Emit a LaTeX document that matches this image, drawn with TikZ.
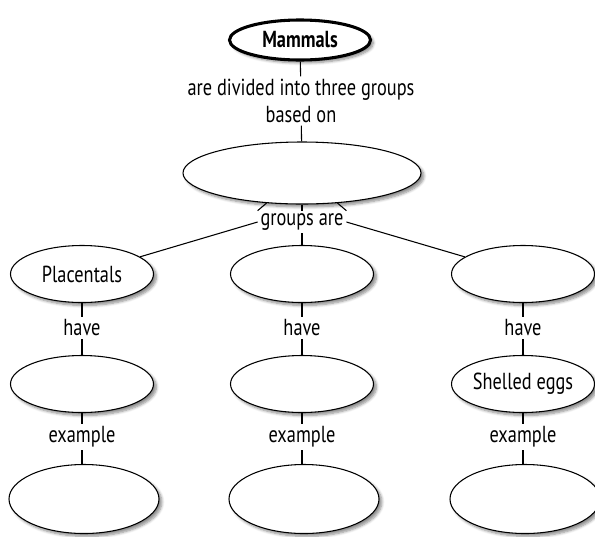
\documentclass[tikz,border=0pt]{standalone}
\usepackage{fontspec}
\setmainfont{PT Sans}[FakeStretch=0.79]
\usetikzlibrary{shapes.geometric,shadows.blur}
\begin{document}
\begin{tikzpicture}[x=0.75pt,y=-0.75pt,
  every node/.style={font=\fontsize{17.4}{20}\selectfont, text=black},
  oval/.style={ellipse, draw, fill=white, line width=0.8pt, inner sep=0pt,
    minimum width=143*0.75pt, minimum height=57*0.75pt,
    blur shadow={shadow xshift=2.2pt, shadow yshift=-2.2pt, shadow blur steps=6, shadow opacity=45}},
  bigoval/.style={oval, minimum width=150*0.75pt, minimum height=69*0.75pt},
  lbl/.style={inner sep=2pt, align=center},
  conn/.style={line width=0.8pt}]
\useasboundingbox (0,0) rectangle (595,536);
% top
\node[oval, line width=2.3pt, minimum width=141*0.75pt, minimum height=40*0.75pt, font=\fontsize{17.4}{20}\selectfont\bfseries] (mam) at (300,40) {Mammals};
\node[lbl] (div) at (301,101) {are divided into three groups\\based on};
\node[oval, minimum width=238*0.75pt, minimum height=62*0.75pt] (crit) at (302,173) {};
\node[lbl, inner sep=2pt] (grp) at (302,222) {groups are};
% middle row
\node[oval] (g1) at (82,274) {Placentals};
\node[oval] (g2) at (302,274) {};
\node[oval] (g3) at (523,274) {};
\node[lbl] (h1) at (82,328) {have};
\node[lbl] (h2) at (302,328) {have};
\node[lbl] (h3) at (523,328) {have};
\node[oval] (c1) at (82,384) {};
\node[oval] (c2) at (302,384) {};
\node[oval] (c3) at (523,384) {Shelled eggs};
\node[lbl] (e1) at (82,437) {example};
\node[lbl] (e2) at (302,437) {example};
\node[lbl] (e3) at (523,437) {example};
\node[bigoval] (x1) at (84,499) {};
\node[bigoval] (x2) at (304,499) {};
\node[bigoval] (x3) at (525,499) {};
% connectors
\draw[conn] (mam) -- (div);
\draw[conn] (div) -- (crit);
\draw[conn] (crit) -- (grp);
\draw[conn] (crit) -- (grp.north west);
\draw[conn] (crit) -- (grp.north east);
\draw[conn] (grp.west) -- (g1);
\draw[conn] (grp) -- (g2);
\draw[conn] (grp.east) -- (g3);
\foreach \i in {1,2,3}{
  \draw[conn] (g\i) -- (h\i);
  \draw[conn] (h\i) -- (c\i);
  \draw[conn] (c\i) -- (e\i);
  \draw[conn] (e\i.south) -- (e\i.south |- x\i.north);
}
\end{tikzpicture}
\end{document}
